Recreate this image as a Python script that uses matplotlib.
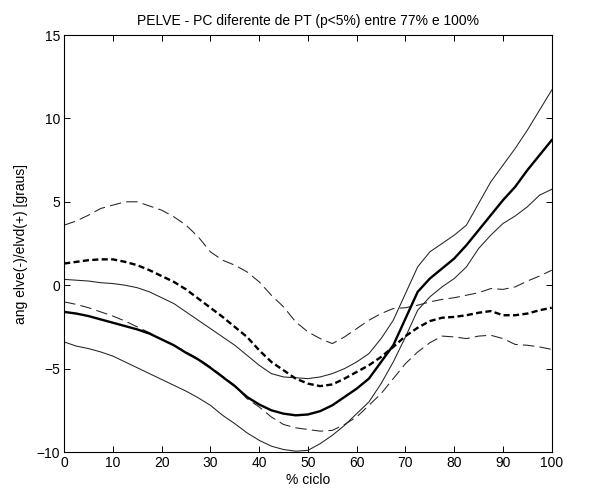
import matplotlib
matplotlib.use("Agg")
import matplotlib.pyplot as plt

plt.rcParams['font.family'] = ['Liberation Sans', 'DejaVu Sans']

ciclo = [0, 2.5, 5, 7.5, 10, 12.5, 15, 17.5, 20, 22.5, 25, 27.5, 30, 32.5, 35, 37.5,
         40, 42.5, 45, 47.5, 50, 52.5, 55, 57.5, 60, 62.5, 65, 67.5, 70, 72.5, 75,
         77.5, 80, 82.5, 85, 87.5, 90, 92.5, 95, 97.5, 100]

pc_mean = [-1.6, -1.7, -1.85, -2.05, -2.25, -2.45, -2.65, -2.9, -3.25, -3.6, -4.05,
           -4.45, -4.95, -5.5, -6.05, -6.7, -7.15, -7.5, -7.7, -7.8, -7.75, -7.55,
           -7.2, -6.7, -6.2, -5.6, -4.6, -3.6, -2.0, -0.4, 0.4, 1.0, 1.6, 2.4, 3.3,
           4.2, 5.1, 5.9, 6.9, 7.8, 8.7]
pc_upper = [0.35, 0.3, 0.25, 0.15, 0.1, 0.0, -0.15, -0.4, -0.75, -1.1, -1.6, -2.1,
            -2.6, -3.1, -3.6, -4.2, -4.8, -5.3, -5.5, -5.55, -5.6, -5.5, -5.3, -5.0,
            -4.6, -4.1, -3.2, -2.1, -0.5, 1.1, 2.0, 2.5, 3.0, 3.6, 4.9, 6.2, 7.2,
            8.2, 9.3, 10.5, 11.7]
pc_lower = [-3.4, -3.65, -3.8, -4.0, -4.25, -4.6, -4.95, -5.3, -5.65, -6.0, -6.35,
            -6.75, -7.2, -7.8, -8.3, -8.85, -9.3, -9.65, -9.85, -9.95, -9.9, -9.5,
            -9.0, -8.4, -7.7, -7.0, -5.9, -4.6, -3.1, -1.5, -0.7, -0.1, 0.4, 1.1,
            2.2, 3.0, 3.7, 4.15, 4.7, 5.4, 5.75]
pt_mean = [1.3, 1.4, 1.5, 1.55, 1.55, 1.4, 1.2, 0.9, 0.55, 0.2, -0.25, -0.8, -1.35,
           -1.9, -2.5, -3.1, -3.9, -4.6, -5.1, -5.6, -5.9, -6.05, -5.95, -5.6, -5.2,
           -4.8, -4.3, -3.7, -3.05, -2.55, -2.15, -1.95, -1.9, -1.8, -1.65, -1.55,
           -1.8, -1.8, -1.7, -1.5, -1.35]
pt_upper = [3.6, 3.85, 4.2, 4.6, 4.8, 5.0, 5.0, 4.75, 4.5, 4.1, 3.6, 2.9, 2.0, 1.5,
            1.2, 0.8, 0.2, -0.6, -1.3, -2.2, -2.8, -3.2, -3.5, -3.1, -2.6, -2.1,
            -1.7, -1.4, -1.35, -1.2, -1.0, -0.85, -0.75, -0.6, -0.45, -0.2, -0.25,
            -0.1, 0.25, 0.55, 0.9]
pt_lower = [-1.0, -1.15, -1.35, -1.6, -1.85, -2.15, -2.5, -2.85, -3.25, -3.6, -4.0,
            -4.4, -4.9, -5.45, -6.0, -6.8, -7.3, -7.9, -8.35, -8.55, -8.65, -8.75,
            -8.7, -8.35, -7.9, -7.2, -6.5, -5.6, -4.7, -4.0, -3.45, -3.05, -3.1,
            -3.2, -3.05, -3.0, -3.2, -3.55, -3.6, -3.7, -3.85]

xticks = [0, 10, 20, 30, 40, 50, 60, 70, 80, 90, 100]
yticks = [-10, -5, 0, 5, 10, 15]

title = "PELVE - PC diferente de PT (p<5%) entre 77% e 100%"
xlabel = "% ciclo"
ylabel = "ang elve(-)/elvd(+) [graus]"

fig = plt.figure(figsize=(6.05, 4.91), dpi=100)
ax = fig.add_axes([0.106, 0.0794, 0.806, 0.8493])

thin = 0.75
ax.plot(ciclo, pc_upper, color='#222222', lw=thin)
ax.plot(ciclo, pc_lower, color='#222222', lw=thin)
ax.plot(ciclo, pt_upper, color='#222222', lw=thin, dashes=(11, 5))
ax.plot(ciclo, pt_lower, color='#222222', lw=thin, dashes=(11, 5))
ax.plot(ciclo, pc_mean, color='black', lw=1.7)
ax.plot(ciclo, pt_mean, color='black', lw=1.7, dashes=(2.6, 1.4))

ax.set_xlim(0, 100)
ax.set_ylim(-10, 15)
ax.set_xticks(xticks)
ax.set_yticks(yticks)
ax.tick_params(direction='in', top=True, right=True, length=4, width=0.7,
               labelsize=10, pad=3)
for s in ax.spines.values():
    s.set_linewidth(0.8)

ax.set_title(title, fontsize=10, pad=7)
ax.set_xlabel(xlabel, fontsize=10, labelpad=2)
ax.set_ylabel(ylabel, fontsize=10, labelpad=6)

fig.savefig("out.png", dpi=100)
